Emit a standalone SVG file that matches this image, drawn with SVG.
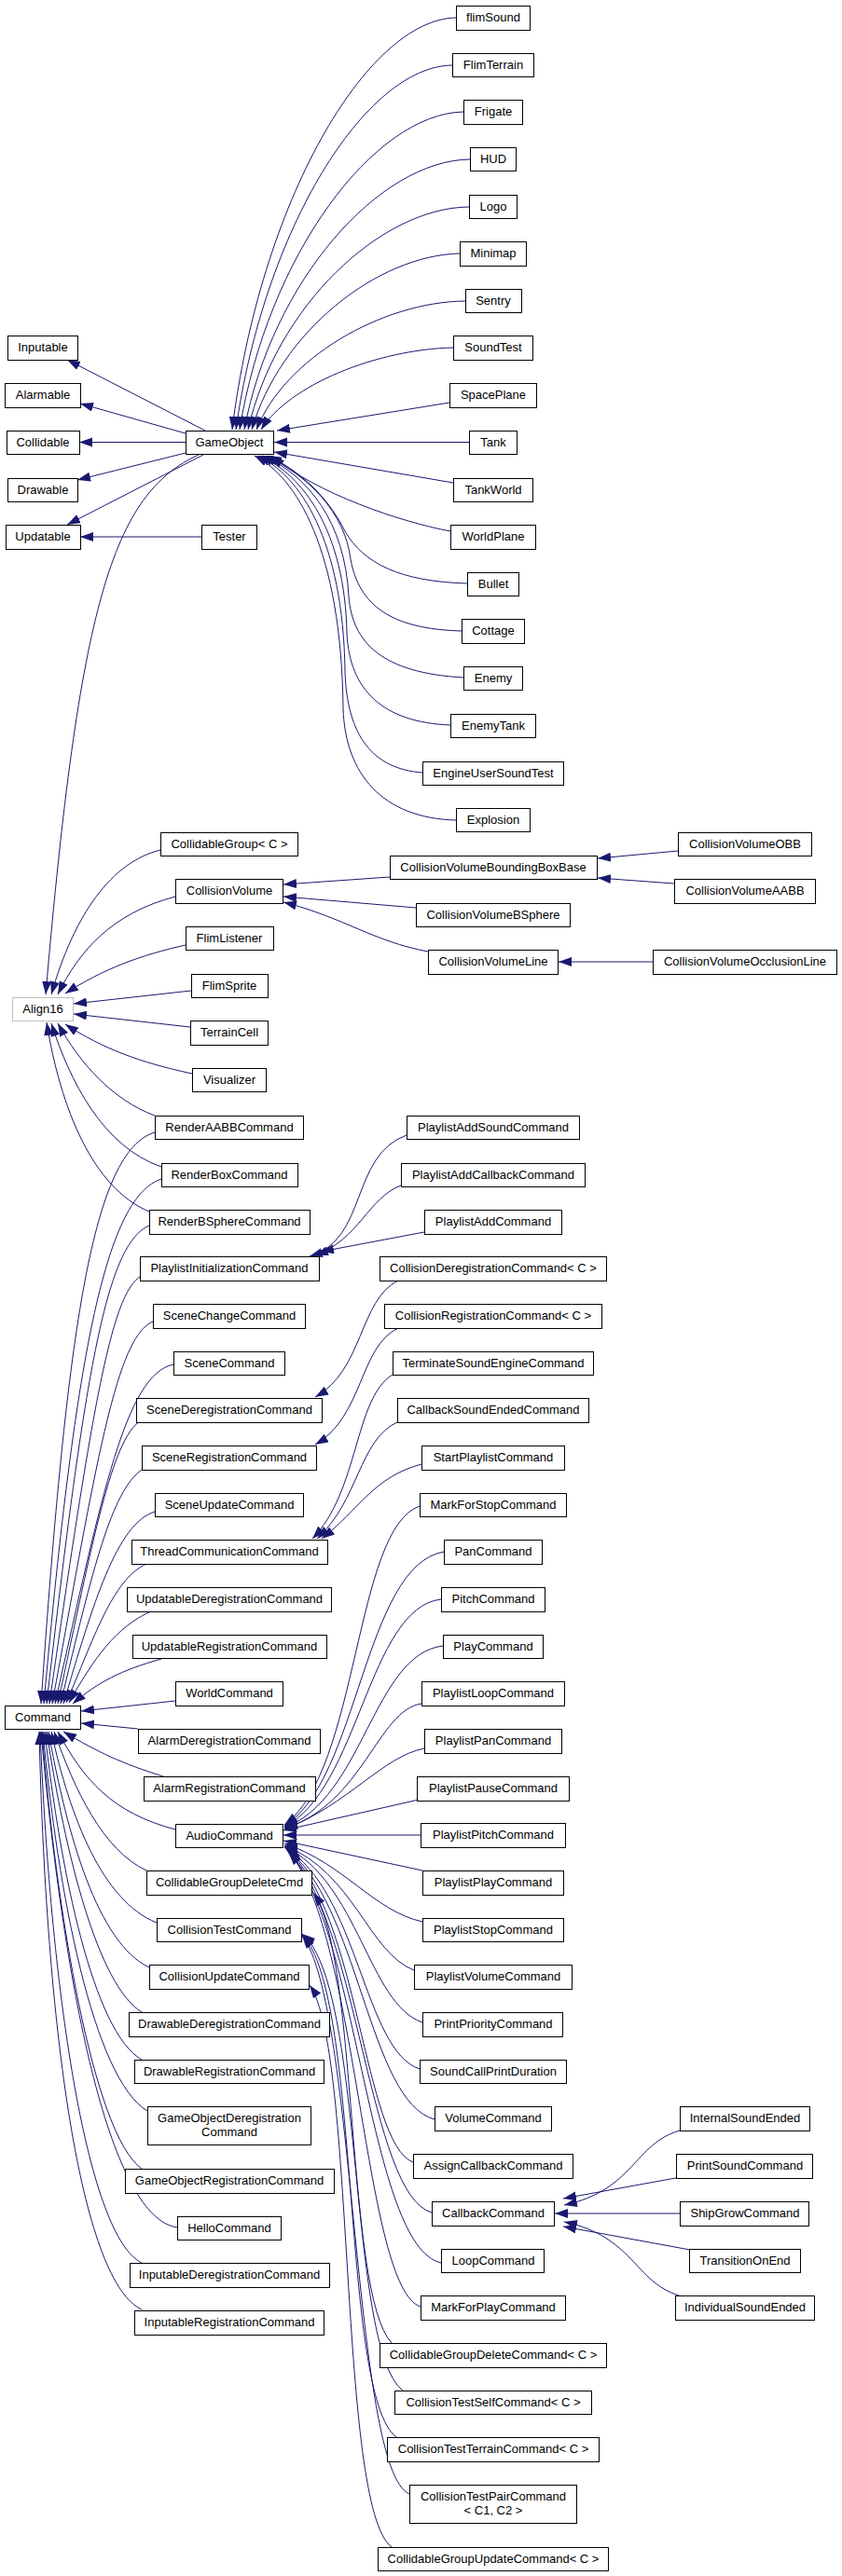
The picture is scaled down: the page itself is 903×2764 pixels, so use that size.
<svg xmlns="http://www.w3.org/2000/svg" width="903" height="2764" viewBox="0 0 903 2764">
<style>
.n rect{fill:#fff;stroke:#000;stroke-width:1}
.g rect{fill:#fff;stroke:#bfbfbf;stroke-width:1}
text{font-family:"Liberation Sans",Arial,sans-serif;font-size:13px;text-anchor:middle;fill:#000}
.e path{fill:none;stroke:#191970;stroke-width:1;marker-end:url(#a)}
</style>
<defs>
<marker id="a" markerUnits="userSpaceOnUse" markerWidth="15" markerHeight="11" refX="14" refY="5" orient="auto"><path d="M0,0 L14,5 L0,10 z" fill="#191970"/></marker>
</defs>
<rect x="0" y="0" width="903" height="2764" fill="#fff"/>
<g id="edges" class="e">
<path d="M489,19 C393,21 279,217 249,461"/>
<path d="M485,70 C392,71 283,246 253,461"/>
<path d="M497,120 C401,122 287,274 257,461"/>
<path d="M504,171 C407,172 292,301 262,461"/>
<path d="M503,222 C408,223 296,329 266,461"/>
<path d="M493,272 C404,274 300,357 270,461"/>
<path d="M499,323 C409,324 305,385 275,461"/>
<path d="M486,373 C404,375 310,413 280,461"/>
<path d="M482,432 L297,462"/>
<path d="M503,474.5 L294,474.5"/>
<path d="M486,518 L294,485"/>
<path d="M483,570 C430,560 340,530 291,489"/>
<path d="M501,626 C430,624 390,605 370,570 C355,540 330,510 288,489"/>
<path d="M495,677 C420,675 385,650 376,600 C370,550 330,510 285,489"/>
<path d="M497,727 C410,722 378,690 374,640 C370,560 330,510 282,489"/>
<path d="M483,778 C410,775 375,740 372,680 C370,570 325,510 279,489"/>
<path d="M453,829 C400,825 372,790 370,720 C368,580 322,510 276,489"/>
<path d="M489,880 C410,878 370,830 368,760 C366,590 318,512 273,489"/>
<path d="M220,462 L72,386"/>
<path d="M199,465 L86,433"/>
<path d="M199,474.5 L85,474.5"/>
<path d="M199,486 L83,515"/>
<path d="M218,488 L72,563"/>
<path d="M216,576 L86,576"/>
<path d="M213,488 C120,530 85,650 49,1067"/>
<path d="M172,912 C120,925 80,980 55,1067"/>
<path d="M188,962 C120,980 85,1020 62,1067"/>
<path d="M199,1014 C150,1025 110,1040 70,1066"/>
<path d="M205,1063 L79,1077"/>
<path d="M204,1102 L79,1088"/>
<path d="M206,1152 C150,1140 110,1125 70,1099"/>
<path d="M166,1197 C120,1180 85,1140 62,1098"/>
<path d="M173,1252 C110,1230 75,1160 55,1098"/>
<path d="M160,1300 C100,1275 65,1190 50,1097"/>
<path d="M418,941 L304,949"/>
<path d="M446,974 L304,962"/>
<path d="M459,1021 C400,1010 370,985 304,968"/>
<path d="M727,913 L641,921"/>
<path d="M723,948 L641,942"/>
<path d="M700,1032 L599,1032"/>
<path d="M436,1218 C375,1240 395,1330 332,1348"/>
<path d="M430,1272 C395,1285 385,1330 338,1347"/>
<path d="M455,1322 L344,1343"/>
<path d="M166,1215 C100,1235 72,1420 44,1828"/>
<path d="M173,1265 C115,1285 82,1440 47,1828"/>
<path d="M160,1315 C115,1335 92,1460 50,1828"/>
<path d="M150,1370 C120,1390 100,1500 53,1828"/>
<path d="M164,1418 C125,1435 105,1560 56,1828"/>
<path d="M186,1464 C135,1475 110,1600 59,1828"/>
<path d="M150,1525 C120,1545 100,1650 62,1828"/>
<path d="M152,1577 C120,1600 100,1680 65,1828"/>
<path d="M166,1622 C125,1635 100,1720 68,1828"/>
<path d="M157,1678 C120,1695 100,1760 71,1827"/>
<path d="M162,1729 C125,1745 100,1780 74,1827"/>
<path d="M173,1780 C130,1792 105,1805 78,1828"/>
<path d="M188,1825 L87,1836"/>
<path d="M148,1855 L87,1849"/>
<path d="M175,1906 C130,1892 105,1880 68,1858"/>
<path d="M188,1963 C120,1945 90,1910 62,1858"/>
<path d="M157,2007 C110,1985 80,1920 58,1858"/>
<path d="M168,2063 C110,2040 75,1950 55,1858"/>
<path d="M160,2111 C105,2085 72,1970 52,1858"/>
<path d="M152,2159 C105,2130 70,1990 50,1858"/>
<path d="M152,2210 C100,2180 65,2010 48,1858"/>
<path d="M158,2265 C100,2230 62,2030 46,1858"/>
<path d="M152,2327 C100,2290 60,2050 45,1858"/>
<path d="M190,2390 C120,2380 70,2150 44,1858"/>
<path d="M152,2428 C95,2400 55,2150 43,1858"/>
<path d="M152,2478 C90,2450 50,2200 42,1858"/>
<path d="M427,1374 C385,1395 390,1470 338,1499"/>
<path d="M427,1425 C385,1445 390,1520 338,1550"/>
<path d="M421,1475 C380,1500 385,1600 335,1651"/>
<path d="M426,1526 C385,1545 385,1610 340,1651"/>
<path d="M452,1571 C400,1585 385,1620 345,1651"/>
<path d="M450,1616 C380,1640 385,1900 305,1958"/>
<path d="M476,1665 C390,1680 385,1910 305,1959"/>
<path d="M473,1716 C395,1725 385,1920 305,1960"/>
<path d="M475,1766 C400,1775 390,1930 305,1961"/>
<path d="M452,1828 C405,1835 390,1935 305,1962"/>
<path d="M455,1876 C410,1885 375,1935 305,1963"/>
<path d="M449,1931 L304,1964"/>
<path d="M451,1969 L304,1969"/>
<path d="M453,2007 L304,1975"/>
<path d="M453,2062 C400,2050 370,2000 305,1978"/>
<path d="M444,2114 C395,2095 380,2010 305,1980"/>
<path d="M453,2170 C395,2150 385,2020 305,1981"/>
<path d="M450,2220 C390,2200 385,2030 305,1982"/>
<path d="M466,2274 C395,2255 385,2040 306,1983"/>
<path d="M443,2320 C390,2300 385,2050 307,1984"/>
<path d="M463,2374 C395,2355 385,2060 308,1985"/>
<path d="M473,2428 C395,2410 385,2070 309,1986"/>
<path d="M451,2475 C390,2455 385,2080 310,1987"/>
<path d="M420,2514 C370,2460 385,2100 336,2031"/>
<path d="M432,2565 C372,2520 392,2130 324,2075"/>
<path d="M425,2615 C365,2570 388,2140 324,2076"/>
<path d="M439,2676 C378,2650 382,2150 324,2077"/>
<path d="M420,2733 C362,2690 382,2200 332,2130"/>
<path d="M729,2286 C680,2300 680,2350 605,2366"/>
<path d="M730,2336 L604,2359"/>
<path d="M729,2375 L595,2375"/>
<path d="M740,2414 L604,2389"/>
<path d="M728,2463 C680,2448 680,2400 605,2384"/>
</g>
<g id="Inputable" class="n"><rect x="8.5" y="360.5" width="75" height="26"/><text x="46" y="377">Inputable</text></g>
<g id="Alarmable" class="n"><rect x="5.5" y="411.5" width="81" height="26"/><text x="46" y="428">Alarmable</text></g>
<g id="Collidable" class="n"><rect x="7.5" y="462.5" width="78" height="25"/><text x="46" y="479">Collidable</text></g>
<g id="Drawable" class="n"><rect x="8.5" y="513.5" width="75" height="25"/><text x="46" y="530">Drawable</text></g>
<g id="Updatable" class="n"><rect x="6.5" y="563.5" width="80" height="26"/><text x="46" y="580">Updatable</text></g>
<g id="Align16" class="g"><rect x="13.5" y="1070.5" width="65" height="25"/><text x="46" y="1087">Align16</text></g>
<g id="Command" class="n"><rect x="5.5" y="1830.5" width="81" height="25"/><text x="46" y="1847">Command</text></g>
<g id="GameObject" class="n"><rect x="199.5" y="462.5" width="94" height="25"/><text x="246" y="479">GameObject</text></g>
<g id="Tester" class="n"><rect x="216.5" y="563.5" width="59" height="26"/><text x="246" y="580">Tester</text></g>
<g id="CollidableGroup" class="n"><rect x="172.5" y="893.5" width="147" height="25"/><text x="246" y="910">CollidableGroup&lt; C &gt;</text></g>
<g id="CollisionVolume" class="n"><rect x="188.5" y="943.5" width="115" height="26"/><text x="246" y="960">CollisionVolume</text></g>
<g id="FlimListener" class="n"><rect x="199.5" y="994.5" width="94" height="25"/><text x="246" y="1011">FlimListener</text></g>
<g id="FlimSprite" class="n"><rect x="205.5" y="1045.5" width="82" height="25"/><text x="246" y="1062">FlimSprite</text></g>
<g id="TerrainCell" class="n"><rect x="204.5" y="1095.5" width="83" height="26"/><text x="246" y="1112">TerrainCell</text></g>
<g id="Visualizer" class="n"><rect x="206.5" y="1146.5" width="79" height="25"/><text x="246" y="1163">Visualizer</text></g>
<g id="RenderAABBCommand" class="n"><rect x="166.5" y="1197.5" width="159" height="25"/><text x="246" y="1214">RenderAABBCommand</text></g>
<g id="RenderBoxCommand" class="n"><rect x="173.5" y="1248.5" width="146" height="25"/><text x="246" y="1265">RenderBoxCommand</text></g>
<g id="RenderBSphereCommand" class="n"><rect x="160.5" y="1298.5" width="172" height="26"/><text x="246" y="1315">RenderBSphereCommand</text></g>
<g id="PlaylistInitializationCommand" class="n"><rect x="150.5" y="1348.5" width="192" height="26"/><text x="246" y="1365">PlaylistInitializationCommand</text></g>
<g id="SceneChangeCommand" class="n"><rect x="164.5" y="1399.5" width="163" height="26"/><text x="246" y="1416">SceneChangeCommand</text></g>
<g id="SceneCommand" class="n"><rect x="186.5" y="1450.5" width="119" height="25"/><text x="246" y="1467">SceneCommand</text></g>
<g id="SceneDeregistrationCommand" class="n"><rect x="146.5" y="1500.5" width="199" height="26"/><text x="246" y="1517">SceneDeregistrationCommand</text></g>
<g id="SceneRegistrationCommand" class="n"><rect x="152.5" y="1551.5" width="187" height="26"/><text x="246" y="1568">SceneRegistrationCommand</text></g>
<g id="SceneUpdateCommand" class="n"><rect x="166.5" y="1602.5" width="159" height="25"/><text x="246" y="1619">SceneUpdateCommand</text></g>
<g id="ThreadCommunicationCommand" class="n"><rect x="141.5" y="1652.5" width="210" height="26"/><text x="246" y="1669">ThreadCommunicationCommand</text></g>
<g id="UpdatableDeregistrationCommand" class="n"><rect x="136.5" y="1703.5" width="219" height="26"/><text x="246" y="1720">UpdatableDeregistrationCommand</text></g>
<g id="UpdatableRegistrationCommand" class="n"><rect x="142.5" y="1754.5" width="208" height="25"/><text x="246" y="1771">UpdatableRegistrationCommand</text></g>
<g id="WorldCommand" class="n"><rect x="188.5" y="1804.5" width="115" height="26"/><text x="246" y="1821">WorldCommand</text></g>
<g id="AlarmDeregistrationCommand" class="n"><rect x="148.5" y="1855.5" width="195" height="26"/><text x="246" y="1872">AlarmDeregistrationCommand</text></g>
<g id="AlarmRegistrationCommand" class="n"><rect x="154.5" y="1906.5" width="184" height="26"/><text x="246" y="1923">AlarmRegistrationCommand</text></g>
<g id="AudioCommand" class="n"><rect x="188.5" y="1957.5" width="115" height="25"/><text x="246" y="1974">AudioCommand</text></g>
<g id="CollidableGroupDeleteCmd" class="n"><rect x="157.5" y="2007.5" width="177" height="26"/><text x="246" y="2024">CollidableGroupDeleteCmd</text></g>
<g id="CollisionTestCommand" class="n"><rect x="168.5" y="2058.5" width="155" height="25"/><text x="246" y="2075">CollisionTestCommand</text></g>
<g id="CollisionUpdateCommand" class="n"><rect x="160.5" y="2108.5" width="171" height="26"/><text x="246" y="2125">CollisionUpdateCommand</text></g>
<g id="DrawableDeregistrationCommand" class="n"><rect x="138.5" y="2159.5" width="215" height="26"/><text x="246" y="2176">DrawableDeregistrationCommand</text></g>
<g id="DrawableRegistrationCommand" class="n"><rect x="144.5" y="2210.5" width="203" height="25"/><text x="246" y="2227">DrawableRegistrationCommand</text></g>
<g id="GameObjectDeregistrationCommand" class="n"><rect x="158.5" y="2260.5" width="175" height="41"/><text x="246" y="2277">GameObjectDeregistration</text><text x="246" y="2292">Command</text></g>
<g id="GameObjectRegistrationCommand" class="n"><rect x="134.5" y="2327.5" width="224" height="26"/><text x="246" y="2344">GameObjectRegistrationCommand</text></g>
<g id="HelloCommand" class="n"><rect x="190.5" y="2378.5" width="111" height="25"/><text x="246" y="2395">HelloCommand</text></g>
<g id="InputableDeregistrationCommand" class="n"><rect x="139.5" y="2428.5" width="214" height="26"/><text x="246" y="2445">InputableDeregistrationCommand</text></g>
<g id="InputableRegistrationCommand" class="n"><rect x="144.5" y="2479.5" width="203" height="26"/><text x="246" y="2496">InputableRegistrationCommand</text></g>
<g id="flimSound" class="n"><rect x="489.5" y="6.5" width="79" height="26"/><text x="529" y="23">flimSound</text></g>
<g id="FlimTerrain" class="n"><rect x="485.5" y="57.5" width="87" height="25"/><text x="529" y="74">FlimTerrain</text></g>
<g id="Frigate" class="n"><rect x="497.5" y="107.5" width="63" height="26"/><text x="529" y="124">Frigate</text></g>
<g id="HUD" class="n"><rect x="504.5" y="158.5" width="49" height="25"/><text x="529" y="175">HUD</text></g>
<g id="Logo" class="n"><rect x="503.5" y="209.5" width="51" height="25"/><text x="529" y="226">Logo</text></g>
<g id="Minimap" class="n"><rect x="493.5" y="259.5" width="71" height="26"/><text x="529" y="276">Minimap</text></g>
<g id="Sentry" class="n"><rect x="499.5" y="310.5" width="60" height="25"/><text x="529" y="327">Sentry</text></g>
<g id="SoundTest" class="n"><rect x="486.5" y="360.5" width="85" height="26"/><text x="529" y="377">SoundTest</text></g>
<g id="SpacePlane" class="n"><rect x="482.5" y="411.5" width="93" height="26"/><text x="529" y="428">SpacePlane</text></g>
<g id="Tank" class="n"><rect x="503.5" y="462.5" width="51" height="25"/><text x="529" y="479">Tank</text></g>
<g id="TankWorld" class="n"><rect x="486.5" y="513.5" width="85" height="25"/><text x="529" y="530">TankWorld</text></g>
<g id="WorldPlane" class="n"><rect x="483.5" y="563.5" width="91" height="26"/><text x="529" y="580">WorldPlane</text></g>
<g id="Bullet" class="n"><rect x="501.5" y="614.5" width="55" height="25"/><text x="529" y="631">Bullet</text></g>
<g id="Cottage" class="n"><rect x="495.5" y="664.5" width="67" height="26"/><text x="529" y="681">Cottage</text></g>
<g id="Enemy" class="n"><rect x="497.5" y="715.5" width="63" height="25"/><text x="529" y="732">Enemy</text></g>
<g id="EnemyTank" class="n"><rect x="483.5" y="766.5" width="91" height="25"/><text x="529" y="783">EnemyTank</text></g>
<g id="EngineUserSoundTest" class="n"><rect x="453.5" y="817.5" width="151" height="25"/><text x="529" y="834">EngineUserSoundTest</text></g>
<g id="Explosion" class="n"><rect x="489.5" y="867.5" width="79" height="25"/><text x="529" y="884">Explosion</text></g>
<g id="CollisionVolumeBoundingBoxBase" class="n"><rect x="418.5" y="918.5" width="222" height="25"/><text x="529" y="935">CollisionVolumeBoundingBoxBase</text></g>
<g id="CollisionVolumeBSphere" class="n"><rect x="446.5" y="969.5" width="165" height="25"/><text x="529" y="986">CollisionVolumeBSphere</text></g>
<g id="CollisionVolumeLine" class="n"><rect x="459.5" y="1019.5" width="139" height="26"/><text x="529" y="1036">CollisionVolumeLine</text></g>
<g id="PlaylistAddSoundCommand" class="n"><rect x="436.5" y="1197.5" width="185" height="25"/><text x="529" y="1214">PlaylistAddSoundCommand</text></g>
<g id="PlaylistAddCallbackCommand" class="n"><rect x="430.5" y="1248.5" width="197" height="25"/><text x="529" y="1265">PlaylistAddCallbackCommand</text></g>
<g id="PlaylistAddCommand" class="n"><rect x="455.5" y="1298.5" width="147" height="26"/><text x="529" y="1315">PlaylistAddCommand</text></g>
<g id="CollisionDeregistrationCommand" class="n"><rect x="407.5" y="1348.5" width="243" height="26"/><text x="529" y="1365">CollisionDeregistrationCommand&lt; C &gt;</text></g>
<g id="CollisionRegistrationCommand" class="n"><rect x="412.5" y="1399.5" width="233" height="26"/><text x="529" y="1416">CollisionRegistrationCommand&lt; C &gt;</text></g>
<g id="TerminateSoundEngineCommand" class="n"><rect x="421.5" y="1450.5" width="215" height="25"/><text x="529" y="1467">TerminateSoundEngineCommand</text></g>
<g id="CallbackSoundEndedCommand" class="n"><rect x="426.5" y="1500.5" width="205" height="26"/><text x="529" y="1517">CallbackSoundEndedCommand</text></g>
<g id="StartPlaylistCommand" class="n"><rect x="452.5" y="1551.5" width="153" height="26"/><text x="529" y="1568">StartPlaylistCommand</text></g>
<g id="MarkForStopCommand" class="n"><rect x="450.5" y="1602.5" width="157" height="25"/><text x="529" y="1619">MarkForStopCommand</text></g>
<g id="PanCommand" class="n"><rect x="476.5" y="1652.5" width="105" height="26"/><text x="529" y="1669">PanCommand</text></g>
<g id="PitchCommand" class="n"><rect x="473.5" y="1703.5" width="111" height="26"/><text x="529" y="1720">PitchCommand</text></g>
<g id="PlayCommand" class="n"><rect x="475.5" y="1754.5" width="107" height="25"/><text x="529" y="1771">PlayCommand</text></g>
<g id="PlaylistLoopCommand" class="n"><rect x="452.5" y="1804.5" width="153" height="26"/><text x="529" y="1821">PlaylistLoopCommand</text></g>
<g id="PlaylistPanCommand" class="n"><rect x="455.5" y="1855.5" width="147" height="26"/><text x="529" y="1872">PlaylistPanCommand</text></g>
<g id="PlaylistPauseCommand" class="n"><rect x="447.5" y="1906.5" width="163" height="26"/><text x="529" y="1923">PlaylistPauseCommand</text></g>
<g id="PlaylistPitchCommand" class="n"><rect x="451.5" y="1956.5" width="155" height="26"/><text x="529" y="1973">PlaylistPitchCommand</text></g>
<g id="PlaylistPlayCommand" class="n"><rect x="453.5" y="2007.5" width="151" height="26"/><text x="529" y="2024">PlaylistPlayCommand</text></g>
<g id="PlaylistStopCommand" class="n"><rect x="453.5" y="2058.5" width="151" height="25"/><text x="529" y="2075">PlaylistStopCommand</text></g>
<g id="PlaylistVolumeCommand" class="n"><rect x="444.5" y="2108.5" width="169" height="26"/><text x="529" y="2125">PlaylistVolumeCommand</text></g>
<g id="PrintPriorityCommand" class="n"><rect x="453.5" y="2159.5" width="150" height="26"/><text x="529" y="2176">PrintPriorityCommand</text></g>
<g id="SoundCallPrintDuration" class="n"><rect x="450.5" y="2210.5" width="157" height="25"/><text x="529" y="2227">SoundCallPrintDuration</text></g>
<g id="VolumeCommand" class="n"><rect x="466.5" y="2260.5" width="125" height="26"/><text x="529" y="2277">VolumeCommand</text></g>
<g id="AssignCallbackCommand" class="n"><rect x="443.5" y="2311.5" width="171" height="26"/><text x="529" y="2328">AssignCallbackCommand</text></g>
<g id="CallbackCommand" class="n"><rect x="463.5" y="2362.5" width="131" height="26"/><text x="529" y="2379">CallbackCommand</text></g>
<g id="LoopCommand" class="n"><rect x="473.5" y="2413.5" width="110" height="25"/><text x="529" y="2430">LoopCommand</text></g>
<g id="MarkForPlayCommand" class="n"><rect x="451.5" y="2463.5" width="155" height="26"/><text x="529" y="2480">MarkForPlayCommand</text></g>
<g id="CollidableGroupDeleteCommand" class="n"><rect x="407.5" y="2514.5" width="243" height="26"/><text x="529" y="2531">CollidableGroupDeleteCommand&lt; C &gt;</text></g>
<g id="CollisionTestSelfCommand" class="n"><rect x="423.5" y="2565.5" width="211" height="25"/><text x="529" y="2582">CollisionTestSelfCommand&lt; C &gt;</text></g>
<g id="CollisionTestTerrainCommand" class="n"><rect x="415.5" y="2615.5" width="227" height="26"/><text x="529" y="2632">CollisionTestTerrainCommand&lt; C &gt;</text></g>
<g id="CollisionTestPairCommand" class="n"><rect x="439.5" y="2666.5" width="179" height="41"/><text x="529" y="2683">CollisionTestPairCommand</text><text x="529" y="2698">&lt; C1, C2 &gt;</text></g>
<g id="CollidableGroupUpdateCommand" class="n"><rect x="405.5" y="2733.5" width="247" height="25"/><text x="529" y="2750">CollidableGroupUpdateCommand&lt; C &gt;</text></g>
<g id="CollisionVolumeOBB" class="n"><rect x="727.5" y="893.5" width="143" height="25"/><text x="799" y="910">CollisionVolumeOBB</text></g>
<g id="CollisionVolumeAABB" class="n"><rect x="723.5" y="943.5" width="151" height="26"/><text x="799" y="960">CollisionVolumeAABB</text></g>
<g id="CollisionVolumeOcclusionLine" class="n"><rect x="700.5" y="1019.5" width="197" height="26"/><text x="799" y="1036">CollisionVolumeOcclusionLine</text></g>
<g id="InternalSoundEnded" class="n"><rect x="729.5" y="2260.5" width="139" height="26"/><text x="799" y="2277">InternalSoundEnded</text></g>
<g id="PrintSoundCommand" class="n"><rect x="725.5" y="2311.5" width="146" height="26"/><text x="799" y="2328">PrintSoundCommand</text></g>
<g id="ShipGrowCommand" class="n"><rect x="729.5" y="2362.5" width="138" height="26"/><text x="799" y="2379">ShipGrowCommand</text></g>
<g id="TransitionOnEnd" class="n"><rect x="739.5" y="2413.5" width="119" height="25"/><text x="799" y="2430">TransitionOnEnd</text></g>
<g id="IndividualSoundEnded" class="n"><rect x="724.5" y="2463.5" width="149" height="26"/><text x="799" y="2480">IndividualSoundEnded</text></g>
</svg>
